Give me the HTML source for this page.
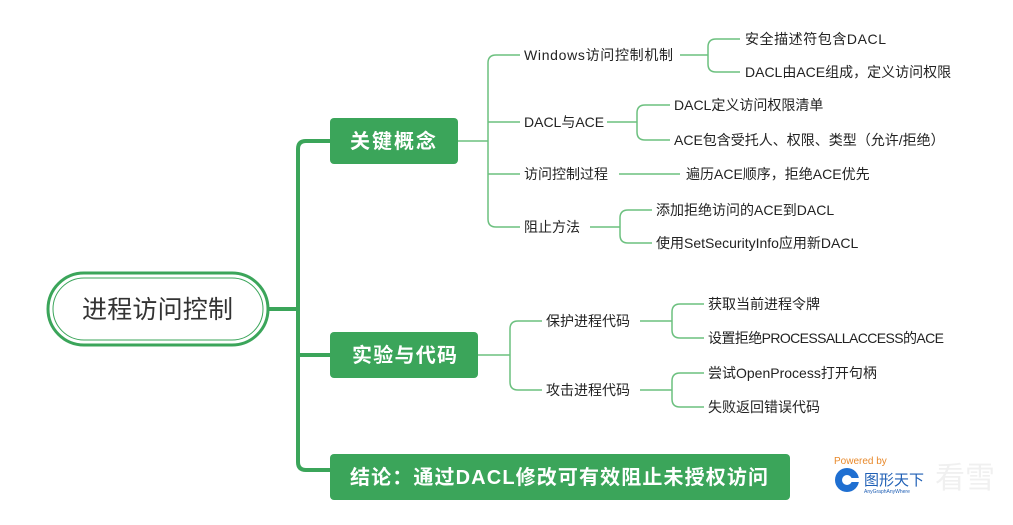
<!DOCTYPE html>
<html><head><meta charset="utf-8"><style>
html,body{margin:0;padding:0;background:#fff;}
svg{display:block;}
text{font-family:"Liberation Sans","Noto Sans CJK SC",sans-serif;}
</style></head><body>
<svg width="1013" height="525" viewBox="0 0 1013 525" xmlns="http://www.w3.org/2000/svg">
<rect width="1013" height="525" fill="#fff"/>
<g fill="none" stroke="#3ba55a" stroke-width="4" stroke-linecap="round">
<path d="M268 309 H298"/>
<path d="M330 141 H306 Q298 141 298 149 V462 Q298 470 306 470 H330"/>
<path d="M298 355 H330"/>
</g>
<g fill="none" stroke="#6cc07f" stroke-width="1.5">
<path d="M458 141 H488"/>
<path d="M520 55 H496 Q488 55 488 63 V219 Q488 227 496 227 H520"/>
<path d="M488 122 H520 M488 174 H520"/>
<path d="M680 55 H708 M740 39 H716 Q708 39 708 47 V64 Q708 72 716 72 H740"/>
<path d="M607 122 H637 M670 105 H645 Q637 105 637 113 V132 Q637 140 645 140 H670"/>
<path d="M619 174 H680"/>
<path d="M590 227 H620 M652 210 H628 Q620 210 620 218 V235 Q620 243 628 243 H652"/>
<path d="M478 355 H510 M542 321 H518 Q510 321 510 329 V382 Q510 390 518 390 H542"/>
<path d="M640 321 H672 M704 304 H680 Q672 304 672 312 V330 Q672 338 680 338 H704"/>
<path d="M640 390 H672 M704 373 H680 Q672 373 672 381 V399 Q672 407 680 407 H704"/>
</g>
<rect x="48" y="273" width="220" height="72" rx="36" fill="#fff" stroke="#3ba55a" stroke-width="3"/>
<rect x="53" y="278" width="210" height="62" rx="31" fill="none" stroke="#3ba55a" stroke-width="1"/>
<text x="82" y="318" font-size="25" fill="#333" textLength="151">进程访问控制</text>
<rect x="330" y="118" width="128" height="46" rx="4" fill="#3ba55a"/>
<text x="350" y="148" font-size="20" font-weight="bold" fill="#fff" textLength="86">关键概念</text>
<rect x="330" y="332" width="148" height="46" rx="4" fill="#3ba55a"/>
<text x="352" y="362" font-size="20" font-weight="bold" fill="#fff" textLength="105">实验与代码</text>
<rect x="330" y="454" width="460" height="46" rx="4" fill="#3ba55a"/>
<text x="350" y="484" font-size="20" font-weight="bold" fill="#fff" textLength="418">结论：通过DACL修改可有效阻止未授权访问</text>
<g font-size="14" fill="#222">
<text x="524" y="60" textLength="149">Windows访问控制机制</text>
<text x="524" y="127">DACL与ACE</text>
<text x="524" y="179">访问控制过程</text>
<text x="524" y="232">阻止方法</text>
<text x="745" y="44" textLength="141">安全描述符包含DACL</text>
<text x="745" y="77">DACL由ACE组成，定义访问权限</text>
<text x="674" y="110">DACL定义访问权限清单</text>
<text x="674" y="145">ACE包含受托人、权限、类型（允许/拒绝）</text>
<text x="686" y="179">遍历ACE顺序，拒绝ACE优先</text>
<text x="656" y="215">添加拒绝访问的ACE到DACL</text>
<text x="656" y="248">使用SetSecurityInfo应用新DACL</text>
<text x="546" y="326">保护进程代码</text>
<text x="546" y="395">攻击进程代码</text>
<text x="708" y="309">获取当前进程令牌</text>
<text x="708" y="343" textLength="236">设置拒绝PROCESSALLACCESS的ACE</text>
<text x="708" y="378">尝试OpenProcess打开句柄</text>
<text x="708" y="412">失败返回错误代码</text>
</g>
<text x="834" y="464" font-size="10" fill="#e8892b">Powered by</text>
<circle cx="847" cy="480" r="12" fill="#1f6fd1"/>
<circle cx="847" cy="480" r="5" fill="#fff"/>
<rect x="847" y="478" width="12" height="4" fill="#fff"/>
<text x="864" y="485" font-size="15" fill="#1f5fb5">图形天下</text>
<text x="864" y="493" font-size="5" fill="#1f5fb5">AnyGraphAnyWhere</text>
<text x="935" y="488" font-size="30" fill="#f0f0f0">看雪</text>
</svg>
</body></html>
